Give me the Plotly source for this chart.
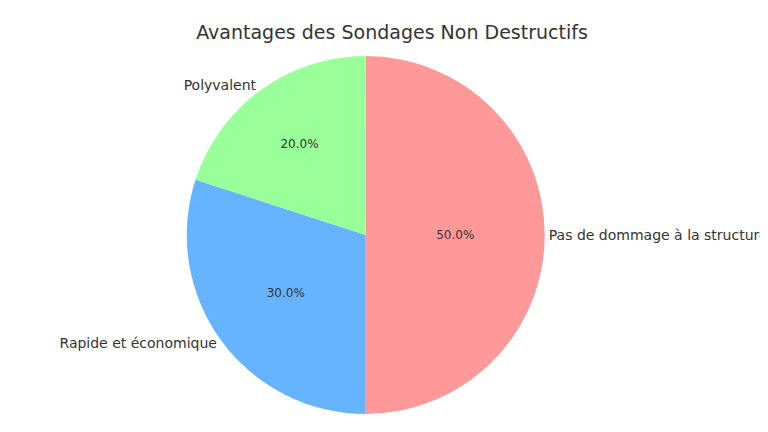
import plotly.graph_objects as go

labels = ["Pas de dommage à la structure", "Rapide et économique", "Polyvalent"]
values = [50, 30, 20]
colors = ["#ff9999", "#66b3ff", "#99ff99"]

dom = dict(x=[0.33, 1.0], y=[0, 1])

fig = go.Figure()
# percentages inside the slices
fig.add_trace(go.Pie(labels=labels, values=values, sort=False, direction="clockwise",
                     rotation=0, marker=dict(colors=colors), domain=dom,
                     textposition="inside", texttemplate="%{percent:.1%}",
                     insidetextorientation="horizontal",
                     textfont=dict(size=12, color="#333333"), hoverinfo="skip", showlegend=False))
# transparent copy carrying the outside labels
fig.add_trace(go.Pie(labels=labels, values=values, sort=False, direction="clockwise",
                     rotation=0, marker=dict(colors=["rgba(0,0,0,0)"] * 3), domain=dom,
                     textposition="outside", texttemplate="%{label}",
                     textfont=dict(size=14, color="#333333"), hoverinfo="skip", showlegend=False))

fig.update_layout(width=768, height=432, paper_bgcolor="white",
                  font=dict(family="DejaVu Sans", color="#333333"),
                  title=dict(text="Avantages des Sondages Non Destructifs", x=0.5, y=0.96,
                             xanchor="center", font=dict(size=19)),
                  margin=dict(l=0, r=0, t=48, b=26))
fig.write_html("out.html")
